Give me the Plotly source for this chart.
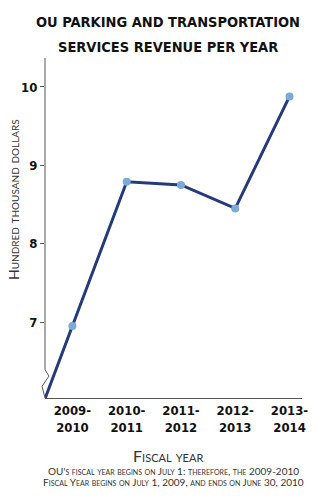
import plotly.graph_objects as go

years = ["2009-<br>2010", "2010-<br>2011", "2011-<br>2012", "2012-<br>2013", "2013-<br>2014"]
revenue = [6.95, 8.79, 8.75, 8.45, 9.88]
ytick_vals = [7, 8, 9, 10]

xs = list(range(len(years)))
# line continues (extrapolated) down to the broken axis at the left edge
x_lead = -0.5
y_lead = revenue[0] + (revenue[1] - revenue[0]) * x_lead

def smallcaps(text, big, small):
    out = []
    for ch in text:
        if ch.islower():
            out.append(f'<span style="font-size:{small}px">{ch.upper()}</span>')
        else:
            out.append(f'<span style="font-size:{big}px">{ch}</span>')
    return "".join(out)

fig = go.Figure()
fig.add_trace(go.Scatter(x=[x_lead] + xs, y=[y_lead] + revenue, mode="lines",
                         line=dict(color="#253a7a", width=3), hoverinfo="skip"))
fig.add_trace(go.Scatter(x=xs, y=revenue, mode="markers",
                         marker=dict(color="#7aaad6", size=8)))

FONT_B = "DejaVu Sans Condensed, Roboto Condensed, Roboto, sans-serif"
FONT_L = "Lato, Roboto, sans-serif"
fig.update_layout(
    width=318, height=500, showlegend=False,
    plot_bgcolor="white", paper_bgcolor="white",
    margin=dict(l=45, r=10, t=58, b=102),
    xaxis=dict(range=[-0.505, 4.23], tickvals=xs, ticktext=years, showgrid=False,
               zeroline=False, showline=True, linecolor="#555", linewidth=1,
               ticks="", tickfont=dict(family=FONT_B, size=13, color="#111", weight="bold")),
    yaxis=dict(range=[6.03, 10.37], tickvals=ytick_vals, showgrid=False, zeroline=False,
               showline=False, ticks="outside", ticklen=4, tickcolor="#555",
               tickfont=dict(family=FONT_B, size=13, color="#111", weight="bold")),
)

# broken y axis
fig.add_shape(type="path", xref="paper", yref="y", xsizemode="pixel", xanchor=0,
              path="M0,10.37 L0,6.39 L4,6.31 L-3,6.18 L0,6.03",
              line=dict(color="#555", width=1))

fig.add_annotation(text="OU PARKING AND TRANSPORTATION",
                   xref="paper", yref="paper", x=0.48, y=1.0, yshift=36, yanchor="middle",
                   showarrow=False, font=dict(family=FONT_B, size=14.5, color="#111", weight="bold"))
fig.add_annotation(text="SERVICES REVENUE PER YEAR",
                   xref="paper", yref="paper", x=0.48, y=1.0, yshift=11, yanchor="middle",
                   showarrow=False, font=dict(family=FONT_B, size=14.5, color="#111", weight="bold"))

fig.add_annotation(text=smallcaps("Hundred thousand dollars", 14, 10),
                   xref="paper", yref="paper", x=0, xshift=-32, xanchor="center",
                   y=0.5, yshift=28, yanchor="middle",
                   textangle=-90, showarrow=False,
                   font=dict(family=FONT_L, color="#333"))

fig.add_annotation(text=smallcaps("Fiscal year", 16, 11),
                   xref="paper", yref="paper", x=0.48, y=0, yshift=-57, yanchor="middle",
                   showarrow=False, font=dict(family=FONT_L, color="#333"))

fig.add_annotation(text=smallcaps("OU's fiscal year begins on July 1: therefore, the 2009-2010", 10, 7),
                   xref="paper", yref="paper", x=0.5, y=0, yshift=-73, yanchor="middle",
                   showarrow=False, font=dict(family=FONT_L, color="#333"))
fig.add_annotation(text=smallcaps("Fiscal Year begins on July 1, 2009, and ends on June 30, 2010", 10, 7),
                   xref="paper", yref="paper", x=0.5, y=0, yshift=-84, yanchor="middle",
                   showarrow=False, font=dict(family=FONT_L, color="#333"))

fig.write_html("out.html")
